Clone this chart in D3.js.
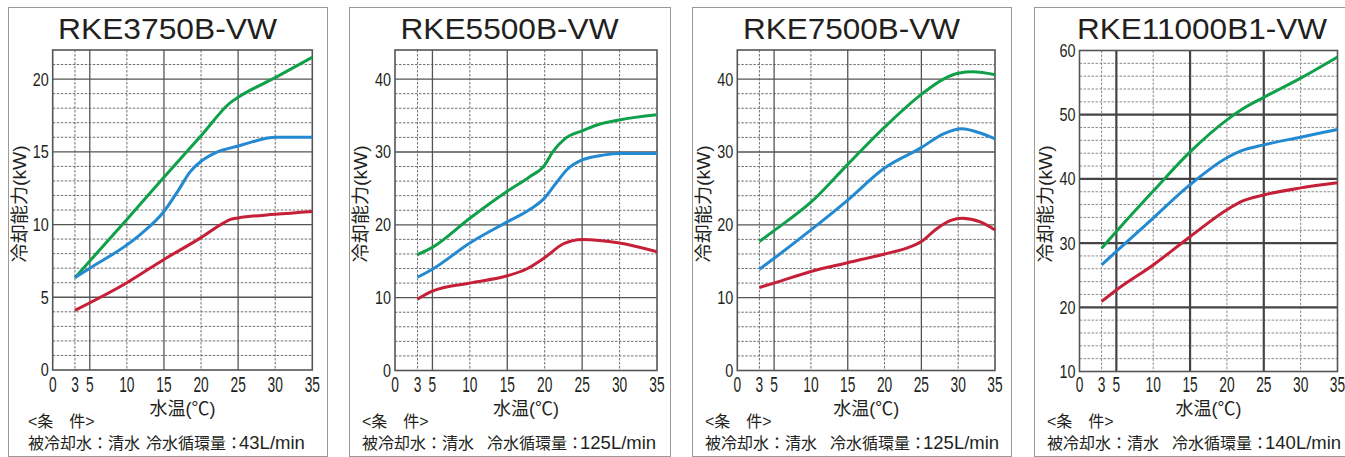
<!DOCTYPE html>
<html><head><meta charset="utf-8">
<script src="https://cdn.jsdelivr.net/npm/d3@7"></script>
<style>body{margin:0;background:#fff;} svg{display:block}</style>
</head><body>
<svg id="c" width="1345" height="457"></svg>
<script>
// ---------- data ----------
const titles = ["RKE3750B-VW", "RKE5500B-VW", "RKE7500B-VW", "RKE11000B1-VW"];
const flowRates = ["43L/min", "125L/min", "125L/min", "140L/min"];
const xTickValues = [0, 3, 5, 10, 15, 20, 25, 30, 35];
const xSolidLines = [5, 15, 25];
const xDashedLines = [3, 10, 20, 30];
const yDomains = [[0, 22], [0, 44], [0, 44], [10, 60]];
const yMajorTicks = [[0, 5, 10, 15, 20], [0, 10, 20, 30, 40], [0, 10, 20, 30, 40], [10, 20, 30, 40, 50, 60]];
const yMinorSteps = [1, 2, 2, 2];
const xLabel = "水温(℃)";
const yLabel = "冷却能力(kW)";
const condHead = "<条　件>";
const condWater = "被冷却水：清水";
const condFlow = "冷水循環量：";

// [water temp °C, capacity kW]
const rke3750Green = [[3,6.35],[10,10.35],[15,13.25],[20,16.1],[24,18.4],[25,18.75],[30,20.1],[35,21.5]];
const rke3750Blue  = [[3,6.35],[5,7.0],[10,8.6],[12,9.4],[15,10.9],[17,12.4],[18.5,13.6],[20,14.35],[22,14.95],[25,15.4],[27,15.7],[30,16.0],[35,16.0]];
const rke3750Red   = [[3,4.1],[10,6.0],[15,7.6],[20,9.1],[23,10.1],[24,10.35],[25,10.45],[30,10.7],[35,10.9]];

const rke5500Green = [[3,15.9],[5,16.9],[10,20.9],[15,24.6],[18,26.6],[20,28.2],[21,29.9],[22.8,31.9],[25,32.9],[27,33.7],[30,34.4],[35,35.1]];
const rke5500Blue  = [[3,12.8],[5,13.9],[10,17.5],[15,20.4],[18,22.1],[20,23.7],[21.5,25.7],[23,27.6],[25,28.9],[28,29.6],[30,29.8],[35,29.8]];
const rke5500Red   = [[3,9.8],[5,10.9],[10,12.0],[15,13.0],[17.5,13.9],[20,15.5],[22.5,17.4],[25,18.0],[30,17.5],[35,16.3]];

const rke7500Green = [[3,17.7],[5,19.2],[10,23.1],[15,28.3],[20,33.4],[25,37.9],[28,40.0],[30,40.8],[32,41.0],[35,40.6]];
const rke7500Blue  = [[3,13.9],[5,15.4],[10,19.3],[15,23.4],[20,27.8],[25,30.6],[28,32.5],[30.5,33.2],[33,32.6],[35,31.8]];
const rke7500Red   = [[3,11.4],[5,12.0],[10,13.6],[15,14.8],[20,16.0],[23,16.8],[25,17.7],[27,19.4],[29,20.6],[30.5,20.9],[33,20.4],[35,19.3]];

const rke11000Green = [[3,29.2],[5,31.8],[10,38.1],[15,44.2],[20,49.2],[22,50.8],[25,52.7],[30,55.7],[35,59.0]];
const rke11000Blue  = [[3,26.6],[5,28.7],[10,33.9],[15,39.1],[20,43.3],[22,44.4],[25,45.3],[30,46.5],[35,47.7]];
const rke11000Red   = [[3,20.9],[5,22.7],[10,26.6],[15,31.0],[20,35.2],[22,36.5],[25,37.5],[30,38.6],[35,39.4]];

const panelSeries = [
  [rke3750Green, rke3750Blue, rke3750Red],
  [rke5500Green, rke5500Blue, rke5500Red],
  [rke7500Green, rke7500Blue, rke7500Red],
  [rke11000Green, rke11000Blue, rke11000Red]
];
const seriesColors = ["#10a04a", "#2389d1", "#c61f38"];

// ---------- layout ----------
const layouts = [
  {box:[8,7,327,456],   plot:[52.7,312.3,50,370],    titleX:167.5, titleW:219, condX:20},
  {box:[349,7,670,456], plot:[395,657,50,370.5],     titleX:509.5, titleW:218, condX:13},
  {box:[692,7,1011,456],plot:[737.3,995,50,370.5],   titleX:851.5, titleW:217, condX:13},
  {box:[1034,7,1354,456],plot:[1079.5,1337.5,50.5,371.5], titleX:1202, titleW:250, condX:13}
];

const svg = d3.select("#c");
const TXT = "#231f20";
const FONT = "'Liberation Sans', Arial, 'Noto Sans CJK JP', sans-serif";

layouts.forEach((L, i) => {
  const g = svg.append("g");
  const [bx0, by0, bx1, by1] = L.box;
  const [px0, px1, py0, py1] = L.plot;
  const heavy = i === 3;

  g.append("rect").attr("x", bx0 + 0.5).attr("y", by0 + 0.5)
    .attr("width", bx1 - bx0).attr("height", by1 - by0)
    .attr("fill", "none").attr("stroke", "#9a9a9a").attr("stroke-width", 1);

  g.append("text").attr("x", L.titleX).attr("y", 38.5)
    .attr("text-anchor", "middle").attr("font-family", FONT)
    .attr("textLength", L.titleW).attr("lengthAdjust", "spacingAndGlyphs")
    .attr("font-size", 30).attr("fill", TXT).text(titles[i]);

  const x = d3.scaleLinear().domain([0, 35]).range([px0, px1]);
  const y = d3.scaleLinear().domain(yDomains[i]).range([py1, py0]);

  // minor grid
  const [d0, d1] = yDomains[i];
  const minors = d3.range(d0, d1 + 0.001, yMinorSteps[i]).filter(v => !yMajorTicks[i].includes(v) && v < d1);
  g.selectAll(null).data(minors).enter().append("line")
    .attr("x1", px0).attr("x2", px1).attr("y1", d => y(d)).attr("y2", d => y(d))
    .attr("stroke", heavy ? "#8a8a8a" : "#6e6e6e").attr("stroke-width", 1)
    .attr("stroke-dasharray", "2.5,1.5");
  g.selectAll(null).data(xDashedLines).enter().append("line")
    .attr("y1", py0).attr("y2", py1).attr("x1", d => x(d)).attr("x2", d => x(d))
    .attr("stroke", heavy ? "#8a8a8a" : "#6e6e6e").attr("stroke-width", 1)
    .attr("stroke-dasharray", "2.5,1.5");
  // major grid
  g.selectAll(null).data(yMajorTicks[i].filter(v => v > d0 && v < d1)).enter().append("line")
    .attr("x1", px0).attr("x2", px1).attr("y1", d => y(d)).attr("y2", d => y(d))
    .attr("stroke", heavy ? "#444" : "#555").attr("stroke-width", heavy ? 2.2 : 1.3);
  g.selectAll(null).data(xSolidLines).enter().append("line")
    .attr("y1", py0).attr("y2", py1).attr("x1", d => x(d)).attr("x2", d => x(d))
    .attr("stroke", heavy ? "#444" : "#555").attr("stroke-width", heavy ? 2.2 : 1.3);
  g.append("rect").attr("x", px0).attr("y", py0).attr("width", px1 - px0).attr("height", py1 - py0)
    .attr("fill", "none").attr("stroke", "#555").attr("stroke-width", 1.6);

  // tick labels
  g.selectAll(null).data(yMajorTicks[i]).enter().append("text")
    .attr("transform", d => `translate(${px0 - 4},${y(d)}) scale(0.8,1)`)
    .attr("dy", "0.36em").attr("text-anchor", "end")
    .attr("font-family", FONT).attr("font-size", 18).attr("fill", TXT).text(d => d);
  g.selectAll(null).data(xTickValues).enter().append("text")
    .attr("transform", d => `translate(${x(d)},${392}) scale(0.64,1)`)
    .attr("text-anchor", "middle")
    .attr("font-family", FONT).attr("font-size", 21.5).attr("fill", TXT).text(d => d);

  // axis labels
  g.append("text").attr("x", (px0 + px1) / 2).attr("y", 415)
    .attr("text-anchor", "middle").attr("font-family", FONT)
    .attr("font-size", 18).attr("fill", TXT).text(xLabel);
  g.append("text").attr("transform", `translate(${bx0 + 18},204) rotate(-90)`)
    .attr("text-anchor", "middle").attr("font-family", FONT)
    .attr("textLength", 117).attr("lengthAdjust", "spacingAndGlyphs")
    .attr("font-size", 18.5).attr("fill", TXT).text(yLabel);

  // conditions
  g.append("text").attr("x", bx0 + L.condX).attr("y", 427)
    .attr("font-family", FONT).attr("font-size", 16).attr("fill", TXT).text(condHead);
  g.append("text").attr("x", bx0 + L.condX).attr("y", 449)
    .attr("font-family", FONT).attr("font-size", 16).attr("fill", TXT).text(condWater);
  const t = g.append("text").attr("x", bx0 + 138).attr("y", 449)
    .attr("font-family", FONT).attr("font-size", 16).attr("fill", TXT);
  t.append("tspan").text(condFlow);
  t.append("tspan").attr("dx", -3).attr("font-size", 18.5).text(flowRates[i]);

  // curves
  const line = d3.line().x(d => x(d[0])).y(d => y(d[1])).curve(d3.curveMonotoneX);
  panelSeries[i].forEach((s, k) => {
    g.append("path").datum(s).attr("d", line)
      .attr("fill", "none").attr("stroke", seriesColors[k])
      .attr("stroke-width", 3).attr("stroke-linecap", "butt").attr("stroke-linejoin", "round");
  });
});
</script>
</body></html>
